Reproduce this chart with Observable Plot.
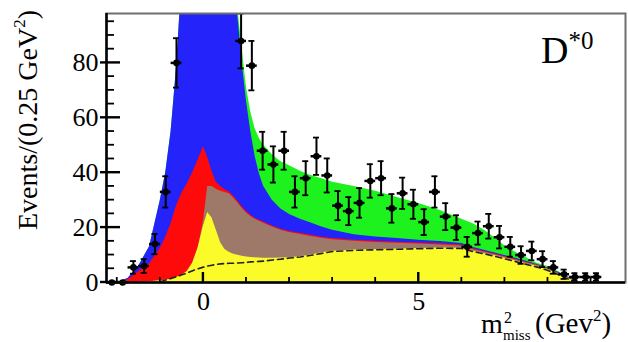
<!DOCTYPE html>
<html><head><meta charset="utf-8">
<script src="https://cdn.jsdelivr.net/npm/d3@7"></script>
<script src="https://cdn.jsdelivr.net/npm/@observablehq/plot@0.6"></script>
<style>body{margin:0;background:#fff}#chart{width:628px;height:342px}</style>
</head><body><div id="chart"></div>
<script>
// m^2_miss grid (GeV^2) and cumulative stacked tops
const xs = [-2.25,-2.0,-1.75,-1.5,-1.25,-1.0,-0.875,-0.75,-0.625,-0.5,-0.375,-0.25,-0.125,0,0.1,0.2,0.3,0.4,0.5,0.6,0.7,0.8,0.9,1.0,1.1,1.2,1.3,1.4,1.6,1.8,2.0,2.25,2.5,2.75,3.0,3.5,4.0,4.5,5.0,5.5,6.0,6.25,6.5,6.75,7.0,7.25,7.5,7.75,8.0,8.25,8.5,8.75,9.0,9.8];
const yellowTop = [0,0,0,0,0.3,0.6,0.8,1.2,1.8,2.6,4,7,12.5,20.5,25.5,23.5,19,14.5,12,11,10.3,9.9,9.6,9.3,9.1,9.0,8.9,8.8,8.8,8.9,9.0,9.4,10,10.8,11.4,11.8,12,12.2,12.4,12.6,12.5,11.4,10.6,9.8,8.8,7.8,6.8,5.8,4.6,3.0,1.2,0,0,0];
const dashedBkg = [null,null,null,null,null,0.3,0.9,1.5,2.1,2.8,3.5,4.3,5.0,5.6,6.0,6.3,6.6,6.8,6.9,7.0,7.0,7.1,7.2,7.3,7.5,7.6,7.7,7.8,8.2,8.5,8.9,9.3,9.9,10.6,11.3,11.7,11.9,12.1,12.3,12.5,12.4,11.3,10.5,9.6,8.6,7.6,6.6,5.6,4.4,2.8,1.0,0,null,null];
const brownTop = [0,0,0,0,0.3,0.6,0.8,1.2,1.8,2.6,4,7,12.5,22,35,35,34,33.2,32.8,32.3,30.8,29,27,25.3,24,23,22.3,21.6,20.2,19,18.2,17.5,16.8,16.1,15.6,15.0,14.6,14.3,14.0,13.7,13.3,12.0,11.1,10.2,9.2,8.2,7.2,6.2,5.0,3.3,1.4,0,0,0];
const redTop = [0,0,1,4,6.8,12.5,16.5,21.5,28,32.5,36,40,44.5,49.5,45.5,40.5,36.5,35,33.8,33,31.5,29.6,27.6,25.9,24.5,23.4,22.7,22.0,20.6,19.4,18.6,17.9,17.2,16.5,16.0,15.4,15.0,14.7,14.4,14.1,13.7,12.4,11.4,10.5,9.5,8.5,7.4,6.4,5.1,3.4,1.5,0,0,0];
const blueTop = [0,0,1.5,6,13,30,40,55,78,110,140,160,170,175,172,168,160,150,135,120,108,97,80,66,55,46,39.5,35,30,26.8,24.8,23,21.7,20.2,19,17.4,16.6,16,15.4,14.9,14.2,12.8,11.8,10.8,9.8,8.8,7.7,6.6,5.3,3.6,1.6,0,0,0];
const greenTop = [0,0,1.5,6,13,30,40,55,78,110,140,160,170,175,172,168,160,150,135,120,108,100,85,71,62,56,52.5,50,46.5,44,42.5,40.5,39,37.8,36.5,35,33.2,31,28.8,26.2,23,21.5,19.3,16.5,13.3,11,9,7,5.8,3.9,1.8,0,0,0];

// data points: bin centres, events, errors
const binX = [-2.125,-1.875,-1.625,-1.375,-1.125,-0.875,-0.625,0.875,1.125,1.375,1.625,1.875,2.125,2.375,2.625,2.875,3.125,3.375,3.625,3.875,4.125,4.375,4.625,4.875,5.125,5.375,5.625,5.875,6.125,6.375,6.625,6.875,7.125,7.375,7.625,7.875,8.125,8.375,8.625,8.875,9.125];
const counts = [0,0,5.5,6,14,33,80,88,79,48,43,48,33,38,46,39,28,26,29,37,38,27,32.5,28.5,22,33,24,20,13,18,20.5,16.5,13,10,11.5,8.5,5.5,3,2,2,2];
const errs = [0,0,2.3,2.5,3.7,5.7,9,10,9,6.9,6.6,6.9,5.7,6.2,6.8,6.2,5.3,5.1,5.4,6.1,6.2,5.2,5.7,5.3,4.7,5.7,4.9,4.5,3.6,4.2,4.5,4.1,3.6,3.2,3.4,2.9,2.3,1.7,1.4,1.4,1.4];

const yTicks = [0,20,40,60,80];
const yMinor = [5,10,15,25,30,35,45,50,55,65,70,75,85,90,95];
const xTicks = [0,5];
const xMinor = [-2,-1,1,2,3,4,6,7,8,9];

const xDom = [-2.25, 9.8], yDom = [0, 98];

const rows = xs.map((x,i)=>({x, yellow:yellowTop[i], dashed:dashedBkg[i], brown:brownTop[i], red:redTop[i], blue:blueTop[i], green:greenTop[i]}));
const pts = binX.map((x,i)=>({x, n:counts[i], e:errs[i]}));
const halfBin = 0.125, capHalf = 0.07;
const zero = () => 0;
const font = "'Liberation Serif','Times New Roman',serif";

const chart = Plot.plot({
  width: 628, height: 342,
  marginLeft: 106, marginRight: 3, marginTop: 13, marginBottom: 60,
  style: {fontFamily: font, background: "white", color: "black"},
  x: {domain: xDom},
  y: {domain: yDom},
  marks: [
    Plot.areaY(rows, {x:"x", y1:zero, y2:"green", fill:"#1ef21e", clip:true}),
    Plot.areaY(rows, {x:"x", y1:zero, y2:"blue", fill:"#2323fa", clip:true}),
    Plot.areaY(rows, {x:"x", y1:zero, y2:"red", fill:"#ff0a0a", clip:true}),
    Plot.areaY(rows, {x:"x", y1:zero, y2:"brown", fill:"#9e7868", clip:true}),
    Plot.areaY(rows, {x:"x", y1:zero, y2:"yellow", fill:"#fbfb2a", clip:true}),
    Plot.line(rows, {x:"x", y:"dashed", stroke:"#222", strokeWidth:1.6, strokeDasharray:"6,4"}),
    Plot.ruleX(pts, {x:"x", y1:d=>d.n-d.e, y2:d=>d.n+d.e, stroke:"black", strokeWidth:2, clip:true}),
    Plot.ruleY(pts.filter(d=>d.e>0), {y:d=>d.n+d.e, x1:d=>d.x-capHalf, x2:d=>d.x+capHalf, stroke:"black", strokeWidth:1.8, clip:true}),
    Plot.ruleY(pts.filter(d=>d.e>0), {y:d=>d.n-d.e, x1:d=>d.x-capHalf, x2:d=>d.x+capHalf, stroke:"black", strokeWidth:1.8, clip:true}),
    Plot.ruleY(pts, {y:"n", x1:d=>d.x-halfBin, x2:d=>d.x+halfBin, stroke:"black", strokeWidth:2.5}),
    Plot.dot(pts, {x:"x", y:"n", r:3.3, fill:"black"}),
    Plot.frame({stroke:"#6e6e6e", strokeWidth:2}),
    Plot.ruleX([xDom[0]], {stroke:"black", strokeWidth:2.5}),
    Plot.ruleY([0], {stroke:"black", strokeWidth:2.5}),
    Plot.axisY(yTicks, {tickSize:0, tickPadding:8, fontSize:26, label:null}),
    Plot.axisX(xTicks, {tickSize:0, tickPadding:9, fontSize:26, label:null})
  ]
});
document.getElementById("chart").appendChild(chart);

const svg = d3.select(chart);
const sx = chart.scale("x"), sy = chart.scale("y");
const x0 = sx.apply(xDom[0]), y0 = sy.apply(0);
// ticks placed through the chart's own scales
const tg = svg.append("g").attr("stroke","black");
yTicks.forEach(v => tg.append("line").attr("x1",x0-6).attr("x2",x0+14).attr("y1",sy.apply(v)).attr("y2",sy.apply(v)).attr("stroke-width",2.4));
yMinor.forEach(v => tg.append("line").attr("x1",x0).attr("x2",x0+8).attr("y1",sy.apply(v)).attr("y2",sy.apply(v)).attr("stroke-width",1.8));
xTicks.forEach(v => tg.append("line").attr("y1",y0).attr("y2",y0-10).attr("x1",sx.apply(v)).attr("x2",sx.apply(v)).attr("stroke-width",2.4));
xMinor.forEach(v => tg.append("line").attr("y1",y0).attr("y2",y0-5).attr("x1",sx.apply(v)).attr("x2",sx.apply(v)).attr("stroke-width",1.8));

// y-axis title
const yt = svg.append("text").attr("transform","translate(37,230) rotate(-90)")
  .attr("text-anchor","start").attr("font-family", font).attr("font-size", 28).attr("fill","black");
yt.append("tspan").text("Events/(0.25 GeV");
yt.append("tspan").attr("font-size",17).attr("dy",-12).text("2");
yt.append("tspan").attr("dy",12).text(")");
// x-axis title
const xt = svg.append("g").attr("font-family", font).attr("fill","black").attr("text-anchor","start");
xt.append("text").attr("x",481).attr("y",333).attr("font-size",28).text("m");
xt.append("text").attr("x",504).attr("y",323).attr("font-size",16).text("2");
xt.append("text").attr("x",503).attr("y",340).attr("font-size",15).text("miss");
const xt2 = xt.append("text").attr("x",535).attr("y",333).attr("font-size",29);
xt2.append("tspan").text("(Gev");
xt2.append("tspan").attr("font-size",17).attr("dy",-12).text("2");
xt2.append("tspan").attr("dy",12).text(")");
// panel label
const dl = svg.append("text").attr("x",541).attr("y",63).attr("text-anchor","start").attr("font-family",font).attr("font-size",38).attr("fill","black");
dl.append("tspan").text("D");
dl.append("tspan").attr("font-size",25).attr("dy",-14).text("*0");
</script>
</body></html>
